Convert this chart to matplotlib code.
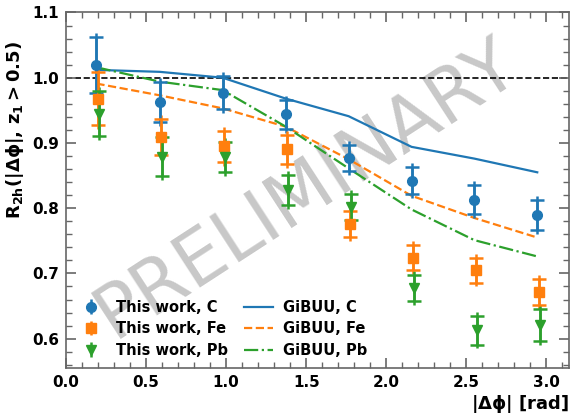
import matplotlib
matplotlib.use("Agg")
import matplotlib.pyplot as plt
import numpy as np
from matplotlib.ticker import MultipleLocator

x_c = [0.19, 0.585, 0.978, 1.372, 1.765, 2.158, 2.55, 2.943]
dx_fe = 0.008
dx_pb = 0.016

c_val = [1.020, 0.963, 0.977, 0.944, 0.877, 0.842, 0.813, 0.789]
c_err = [0.043, 0.031, 0.025, 0.022, 0.020, 0.021, 0.022, 0.023]
fe_val = [0.968, 0.909, 0.895, 0.890, 0.776, 0.724, 0.705, 0.671]
fe_err = [0.040, 0.028, 0.024, 0.022, 0.020, 0.019, 0.019, 0.020]
pb_val = [0.945, 0.879, 0.879, 0.828, 0.802, 0.677, 0.613, 0.621]
pb_err = [0.035, 0.030, 0.023, 0.023, 0.020, 0.020, 0.022, 0.025]

gibuu_c = [1.012, 1.009, 1.000, 0.968, 0.941, 0.894, 0.876, 0.855]
gibuu_fe = [0.991, 0.973, 0.953, 0.925, 0.875, 0.819, 0.785, 0.755]
gibuu_pb = [1.016, 0.994, 0.981, 0.925, 0.861, 0.798, 0.751, 0.726]

colors = ['#1f77b4', '#ff7f0e', '#2ca02c']

fig = plt.figure(figsize=(5.71, 4.16), dpi=100)
ax = fig.add_axes([0.1156, 0.1154, 0.881, 0.8546])

xs = [np.array(x_c), np.array(x_c) + dx_fe, np.array(x_c) + dx_pb]
vals = [c_val, fe_val, pb_val]
errs = [c_err, fe_err, pb_err]
markers = ['o', 's', 'v']
labels = ['This work, C', 'This work, Fe', 'This work, Pb']
handles = []
for x, v, e, m, col, lab in zip(xs, vals, errs, markers, colors, labels):
    ax.errorbar(x, v, yerr=np.array(e) + 0.006, fmt='none', ecolor=col, elinewidth=1.8, zorder=3)
    ax.errorbar(x, v, yerr=e, fmt=m, color=col, ms=7, elinewidth=1.8,
                capsize=5, capthick=1.8, zorder=4)
    # legend proxy (no caps, as in the reference legend)
    h = ax.errorbar([np.nan], [np.nan], yerr=[0.01], fmt=m, color=col, ms=7, elinewidth=1.8)
    handles.append(h)

l1, = ax.plot(x_c, gibuu_c, '-', color=colors[0], lw=1.6, label='GiBUU, C')
l2, = ax.plot(x_c, gibuu_fe, '--', color=colors[1], lw=1.6, label='GiBUU, Fe')
l3, = ax.plot(x_c, gibuu_pb, '-.', color=colors[2], lw=1.6, label='GiBUU, Pb')

ax.axhline(1.0, color='black', ls='--', lw=1.2, zorder=1)

ax.set_xlim(0, np.pi)
ax.set_ylim(0.555, 1.1)
ax.xaxis.set_major_locator(MultipleLocator(0.5))
ax.xaxis.set_minor_locator(MultipleLocator(0.1))
ax.yaxis.set_major_locator(MultipleLocator(0.1))
ax.yaxis.set_minor_locator(MultipleLocator(0.02))
ax.tick_params(which='both', direction='in', top=True, right=True, color='#666666')
ax.tick_params(which='major', length=7, width=1.2, labelsize=11, pad=5)
ax.tick_params(which='minor', length=4, width=1.0)
for lab in ax.get_xticklabels() + ax.get_yticklabels():
    lab.set_fontweight('bold')
for s in ax.spines.values():
    s.set_color('#666666')
    s.set_linewidth(1.2)

ax.set_xlabel(r'$\mathbf{|\Delta\phi|}$ [rad]', fontsize=13, fontweight='bold', loc='right', labelpad=2)
ax.set_ylabel(r'$\mathbf{R_{2h}(|\Delta\phi|,\, z_1 > 0.5)}$', fontsize=13)
ax.yaxis.set_label_coords(-0.08, 0.67)

ax.legend(handles + [l1, l2, l3], labels + ['GiBUU, C', 'GiBUU, Fe', 'GiBUU, Pb'],
          ncol=2, frameon=False, loc='lower left', prop={'weight': 'bold', 'size': 10.5},
          handlelength=2, columnspacing=1.1, borderaxespad=0.3, handletextpad=0.7,
          labelspacing=0.45)

ax.text(0.478, 0.504, 'PRELIMINARY', transform=ax.transAxes, fontsize=53, color='#b0b0b0',
        alpha=0.7, rotation=33, ha='center', va='center', zorder=0)

fig.savefig('out.png', dpi=100)
